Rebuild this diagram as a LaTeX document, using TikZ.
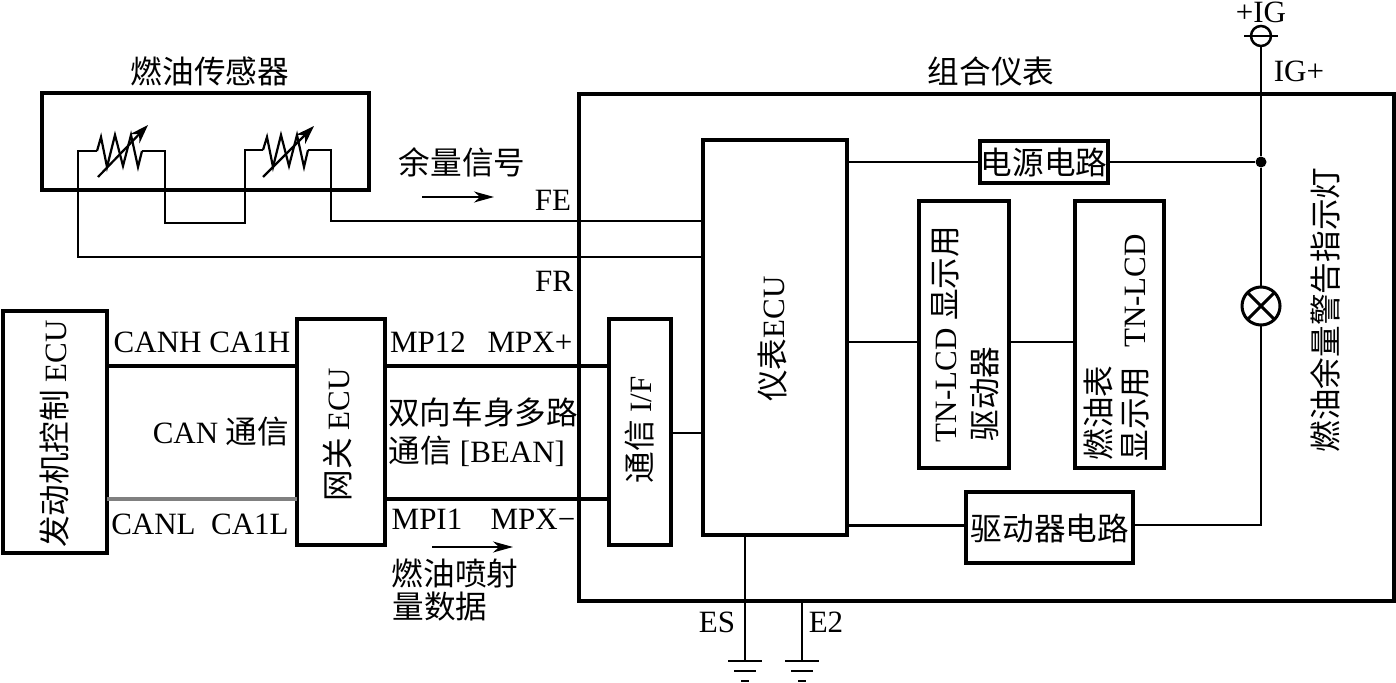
\documentclass[tikz,border=0pt]{standalone}
\usepackage{fontspec}
\setmainfont{Liberation Serif}
\newfontfamily\cjk{Noto Sans CJK SC}[Scale=1.02]
\usetikzlibrary{arrows.meta}
\newcommand{\zh}[1]{{\cjk #1}}
\tikzset{
  x=1pt,y=-1pt,
  boxn/.style={draw=black,line width=4pt,fill=white,minimum width=#1,inner sep=0pt,outer sep=0pt},
  wire/.style={line width=2.2pt,black},
  bus/.style={line width=4.5pt,black},
  lbl/.style={font=\fontsize{31}{34}\selectfont,inner sep=0pt,outer sep=0pt},
  vlbl/.style={lbl,rotate=90},
  flowarrow/.style={line width=1.5pt,-{Stealth[length=20pt,width=11pt,inset=6pt]}},
}
\begin{document}
\begin{tikzpicture}
\useasboundingbox (0,0) rectangle (1396,682);
% boxes
\node[boxn=327pt,minimum height=97pt,fill=none] (sensor) at (205.5,141.5) {};
\node[boxn=815pt,minimum height=507pt,fill=none] (cluster) at (986.5,347.5) {};
\node[boxn=144pt,minimum height=395pt] (ecu) at (775,337.5) {};
\node[boxn=128pt,minimum height=42pt] (power) at (1044,162) {};
\node[boxn=90pt,minimum height=267pt] (tndrv) at (964,334.5) {};
\node[boxn=89pt,minimum height=267pt] (tnlcd) at (1119.5,334.5) {};
\node[boxn=167pt,minimum height=71pt] (drv) at (1049.5,527.5) {};
\node[boxn=62pt,minimum height=226pt] (comif) at (640,432) {};
\node[boxn=88pt,minimum height=226pt] (gw) at (341,432) {};
\node[boxn=104pt,minimum height=242pt] (eng) at (55,432) {};
% lamp and terminal
\node[draw,circle,line width=2.5pt,minimum size=20pt,inner sep=0pt,outer sep=0pt] (ig) at (1261,36) {};
\node[draw,circle,line width=3pt,minimum size=38pt,inner sep=0pt,outer sep=0pt] (lamp) at (1261,306) {};
\draw[line width=3pt] (lamp.north west) -- (lamp.south east) (lamp.north east) -- (lamp.south west);
\draw[wire] (1244,36) -- (1278,36);
\node[fill=black,circle,minimum size=11pt,inner sep=0pt] (dot) at (1261,162) {};
% wires
\draw[wire] (ig.south) -- (dot) -- (lamp.north);
\draw[wire] (lamp.south) |- (drv.east |- 0,525);
\draw[wire] (power.east) -- (dot);
\draw[wire] (ecu.east |- power) -- (power.west);
\draw[line width=3pt] (ecu.east |- 0,525) -- (drv.west |- 0,525);
\draw[wire] (ecu.east |- 0,342) -- (tndrv.west |- 0,342);
\draw[wire] (tndrv.east |- 0,342) -- (tnlcd.west |- 0,342);
\draw[wire] (comif.east |- 0,433) -- (ecu.west |- 0,433);
\draw[bus] (eng.east |- 0,366) -- (gw.west |- 0,366);
\draw[line width=4.5pt,black!50] (eng.east |- 0,499) -- (gw.west |- 0,499);
\draw[bus] (gw.east |- 0,366) -- (comif.west |- 0,366);
\draw[bus] (gw.east |- 0,499) -- (comif.west |- 0,499);
% sensors
\coordinate (r1in) at (97,151); \coordinate (r1out) at (142,151);
\coordinate (r2in) at (263,150); \coordinate (r2out) at (308,150);
\draw[wire] (r1in) -- (78,151) -- (78,257) -- (ecu.west |- 0,257);
\draw[wire] (r1out) -- (165,151) -- (165,223) -- (245,223) -- (245,150) -- (r2in);
\draw[wire] (r2out) -- (331,150) -- (331,221) -- (ecu.west |- 0,221);
\draw[wire,line join=miter] (r1in) -- (101,137) -- (107,167) -- (115,135) -- (123,166) -- (131,135) -- (138,167) -- (r1out);
\draw[wire,line join=miter] (r2in) -- (267,137) -- (273,167) -- (281,135) -- (289,166) -- (297,135) -- (304,167) -- (r2out);
\draw[wire,-{Stealth[length=19pt,width=13pt]}] (98,177) -- (148,125);
\draw[wire,-{Stealth[length=19pt,width=13pt]}] (263,177) -- (314,126);
% ground
\coordinate (esg) at (745,661); \coordinate (e2g) at (802,661);
\draw[wire] (ecu.south -| esg) -- (esg);
\draw[wire] (cluster.south -| e2g) -- (e2g);
\draw[wire] (728,661) -- (762,661) (734,671) -- (756,671) (741,681) -- (749,681);
\draw[wire] (785,661) -- (819,661) (791,671) -- (813,671) (798,681) -- (806,681);
% flow arrows
\coordinate (f1a) at (422,197); \coordinate (f1b) at (494,197);
\coordinate (f2a) at (432,547); \coordinate (f2b) at (513,547);
\draw[flowarrow] (f1a) -- (f1b);
\draw[flowarrow] (f2a) -- (f2b);
% labels
\node[lbl] (t1) at (210,71) {\zh{燃油传感器}};
\node[lbl] (t2) at (991,71) {\zh{组合仪表}};
\node[lbl] (t3) at (462,162) {\zh{余量信号}};
\node[lbl] (t4) at (1261,12) {+IG};
\node[lbl] (t5) at (1299,71) {IG+};
\node[lbl] (t6) at (553,200) {FE};
\node[lbl] (t7) at (554,281) {FR};
\node[lbl] (t8) at (1044,162) {\zh{电源电路}};
\node[lbl] (t9) at (1050,528) {\zh{驱动器电路}};
\node[vlbl] (t10) at (773,339) {\zh{仪表}ECU};
\node[vlbl] (t11) at (945,334) {TN-LCD \zh{显示用}};
\node[vlbl] (t12) at (985,394) {\zh{驱动器}};
\node[vlbl] (t13) at (1098,413) {\zh{燃油表}};
\node[vlbl] (t14) at (1135,291) {TN-LCD};
\node[vlbl] (t15) at (1135,414) {\zh{显示用}};
\node[vlbl] (t16) at (1325,310) {\zh{燃油余量警告指示灯}};
\node[vlbl] (t17) at (640,430) {\zh{通信} I/F};
\node[vlbl] (t18) at (338,435) {\zh{网关} ECU};
\node[vlbl] (t19) at (54,434) {\zh{发动机控制} ECU};
\node[lbl] (t20) at (202,342) {CANH CA1H};
\node[lbl] (t21) at (200,524) {CANL\ \ CA1L};
\node[lbl] (t22) at (221,432) {CAN \zh{通信}};
\node[lbl] (t23) at (428,342) {MP12};
\node[lbl] (t24) at (530,342) {MPX+};
\node[lbl] (t25) at (427,519) {MPI1};
\node[lbl] (t26) at (533,519) {MPX−};
\node[lbl] (t27) at (483,413) {\zh{双向车身多路}};
\node[lbl] (t28) at (477,451) {\zh{通信} [BEAN]};
\node[lbl] (t29) at (455,573) {\zh{燃油喷射}};
\node[lbl] (t30) at (440,607) {\zh{量数据}};
\node[lbl] (t31) at (717,622) {ES};
\node[lbl] (t32) at (826,622) {E2};
\end{tikzpicture}
\end{document}
